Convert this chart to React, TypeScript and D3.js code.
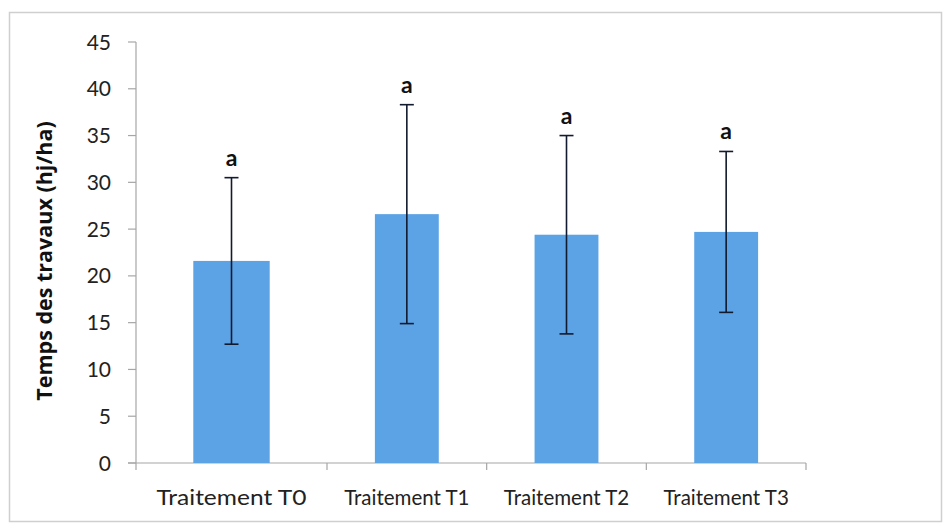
import React from "react";
import * as d3 from "d3";

const categories = ["Traitement T0", "Traitement T1", "Traitement T2", "Traitement T3"];
const means = [21.6, 26.6, 24.4, 24.7];
const errors = [8.9, 11.7, 10.6, 8.6];
const letters = ["a", "a", "a", "a"];
const yTicks = [0, 5, 10, 15, 20, 25, 30, 35, 40, 45];

const W = 944;
const H = 524;

export default function App() {
  // the scanned figure is stretched on its left side: a polylinear scale reproduces it
  const x = d3.scaleLinear().domain([0, 1, 4]).range([136, 327, 806]);
  const y = d3.scaleLinear().domain([0, 45]).range([463, 42]);
  const font = "Lato, 'Open Sans', sans-serif";
  const refBand = x(2) - x(1);

  return (
    <svg width={W} height={H} style={{ position: "absolute", left: 0, top: 0, background: "#fff" }}>
      <rect x={9.5} y={12.5} width={932} height={509} fill="#fff" stroke="#cfcfcf" strokeWidth={1.5} />
      {/* y axis */}
      <line x1={136} x2={136} y1={y(45)} y2={y(0)} stroke="#a6a6a6" strokeWidth={1.2} />
      {yTicks.map((t) => (
        <g key={t}>
          <line x1={128} x2={136} y1={y(t)} y2={y(t)} stroke="#a6a6a6" strokeWidth={1.2} />
          <text x={111} y={y(t)} dy="0.36em" textAnchor="end" fontFamily={font} fontSize={21} fill="#222">
            {t}
          </text>
        </g>
      ))}
      {/* x axis */}
      <line x1={128} x2={x(4)} y1={y(0)} y2={y(0)} stroke="#a6a6a6" strokeWidth={1.2} />
      {d3.range(5).map((i) => (
        <line key={i} x1={x(i)} x2={x(i)} y1={y(0)} y2={y(0) + 7} stroke="#a6a6a6" strokeWidth={1.2} />
      ))}
      {/* bars */}
      {categories.map((c, i) => {
        const band = x(i + 1) - x(i);
        const cx = x(i + 0.5);
        const bw = band * 0.4;
        const top = y(means[i] + errors[i]);
        const bot = y(means[i] - errors[i]);
        const sx = band / refBand;
        return (
          <g key={c}>
            <rect x={cx - bw / 2} y={y(means[i])} width={bw} height={y(0) - y(means[i])} fill="#5ca3e6" />
            <line x1={cx} x2={cx} y1={top} y2={bot} stroke="#111a2e" strokeWidth={1.6} />
            <line x1={cx - 7} x2={cx + 7} y1={top} y2={top} stroke="#111a2e" strokeWidth={1.6} />
            <line x1={cx - 7} x2={cx + 7} y1={bot} y2={bot} stroke="#111a2e" strokeWidth={1.6} />
            <text x={cx} y={top - 12} textAnchor="middle" fontFamily={font} fontWeight="bold" fontSize={23} fill="#111">
              {letters[i]}
            </text>
            <g transform={`translate(${cx},505) scale(${sx},1)`}>
              <text x={0} y={0} textAnchor="middle" fontFamily={font} fontSize={20.5} fill="#222">
                {c}
              </text>
            </g>
          </g>
        );
      })}
      <text
        transform={`translate(52,261) rotate(-90)`}
        textAnchor="middle"
        fontFamily="'Open Sans', Lato, sans-serif"
        fontWeight="bold"
        fontSize={21.5}
        fill="#111"
      >
        Temps des travaux (hj/ha)
      </text>
    </svg>
  );
}
